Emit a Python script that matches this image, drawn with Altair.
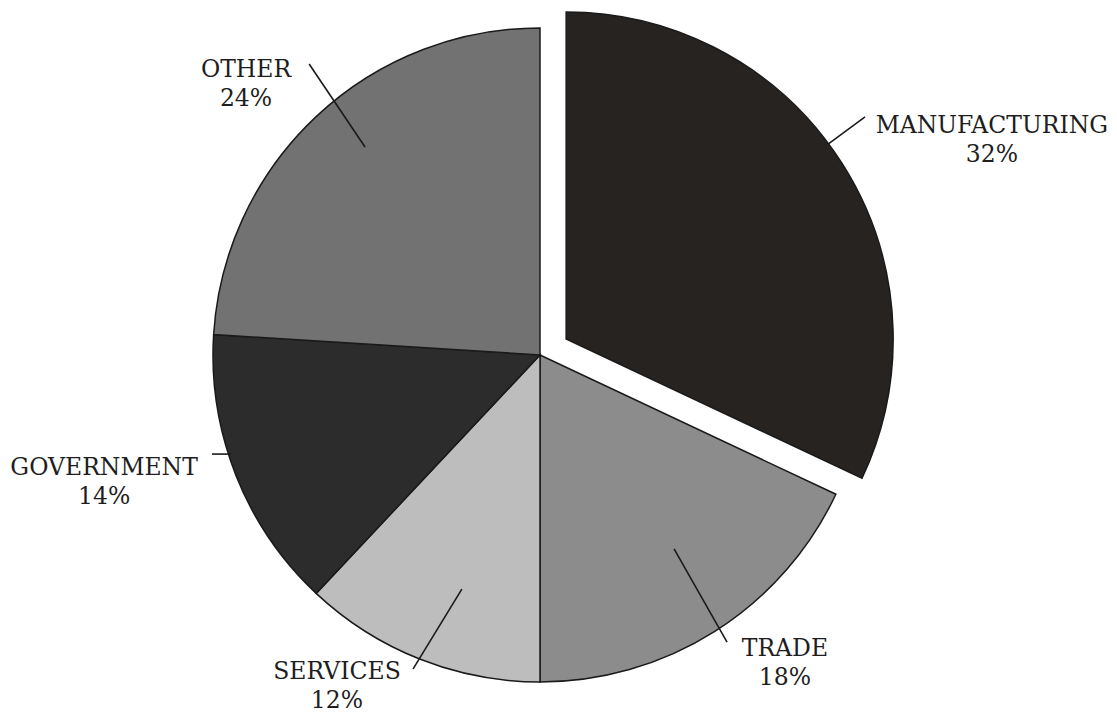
import altair as alt
import pandas as pd

# ---- data ----
sectors = ["MANUFACTURING", "TRADE", "SERVICES", "GOVERNMENT", "OTHER"]
shares = [32, 18, 12, 14, 24]

# ---- layout / style (pie-radius units, origin at pie centre, y up) ----
fills = {"MANUFACTURING": "#262321", "TRADE": "#8c8c8c", "SERVICES": "#bdbdbd",
         "GOVERNMENT": "#2c2c2c", "OTHER": "#727272"}
explode = {"MANUFACTURING": (0.080, 0.049)}
label_pos = {"MANUFACTURING": (1.382, 0.700), "TRADE": (0.749, -0.899),
             "SERVICES": (-0.621, -0.968), "GOVERNMENT": (-1.333, -0.346),
             "OTHER": (-0.899, 0.872)}
leaders = {"MANUFACTURING": (0.994, 0.728, 0.881, 0.645),
           "TRADE": (0.410, -0.593, 0.572, -0.878),
           "SERVICES": (-0.388, -0.960, -0.239, -0.716),
           "GOVERNMENT": (-1.003, -0.303, -0.945, -0.303),
           "OTHER": (-0.706, 0.890, -0.535, 0.636)}

W, H = 1101, 709
R = 327
XDOM = [-532 / R, (W - 532) / R]
YDOM = [(345 - H) / R, 345 / R]

rows = []
for i, (s, v) in enumerate(zip(sectors, shares)):
    ex, ey = explode.get(s, (0.0, 0.0))
    lx, ly = label_pos[s]
    a, b, c, d = leaders[s]
    rows.append({"idx": i, "sector": s, "share": v, "cx": ex, "cy": ey,
                 "lx": lx, "ly": ly, "u1": a, "v1": b, "u2": c, "v2": d})
df = pd.DataFrame(rows)

xs = alt.Scale(domain=XDOM, nice=False, zero=False)
ys = alt.Scale(domain=YDOM, nice=False, zero=False)
color = alt.Color("sector:N", scale=alt.Scale(domain=list(fills.keys()),
                                              range=list(fills.values())), legend=None)

base = alt.Chart(df)

pie = base.mark_arc(radius=R, stroke="#1a1a1a", strokeWidth=1.5).transform_window(
    cum="sum(share)", sort=[alt.SortField("idx")]
).transform_calculate(
    start="datum.cum - datum.share"
).encode(
    theta=alt.Theta("start:Q", scale=alt.Scale(domain=[0, 100], range=[0, 6.283185307])),
    theta2="cum:Q",
    x=alt.X("cx:Q", scale=xs, axis=None),
    y=alt.Y("cy:Q", scale=ys, axis=None),
    color=color,
)

lines = base.mark_rule(color="#1a1a1a", strokeWidth=1.6).encode(
    x=alt.X("u1:Q", scale=xs, axis=None), y=alt.Y("v1:Q", scale=ys, axis=None),
    x2="u2:Q", y2="v2:Q",
)

labels = base.mark_text(font="DejaVu Serif", fontSize=23.5, color="#1e1e1e",
                        lineBreak="\n", lineHeight=29, align="center",
                        baseline="middle").transform_calculate(
    txt="datum.sector + '\\n' + datum.share + '%'"
).encode(
    x=alt.X("lx:Q", scale=xs, axis=None), y=alt.Y("ly:Q", scale=ys, axis=None),
    text="txt:N",
)

chart = alt.layer(pie, lines, labels).properties(
    width=W, height=H, padding=0, background="white"
).configure_view(strokeWidth=0)

chart.save("out.html", embed_options={"renderer": "svg", "actions": False})
